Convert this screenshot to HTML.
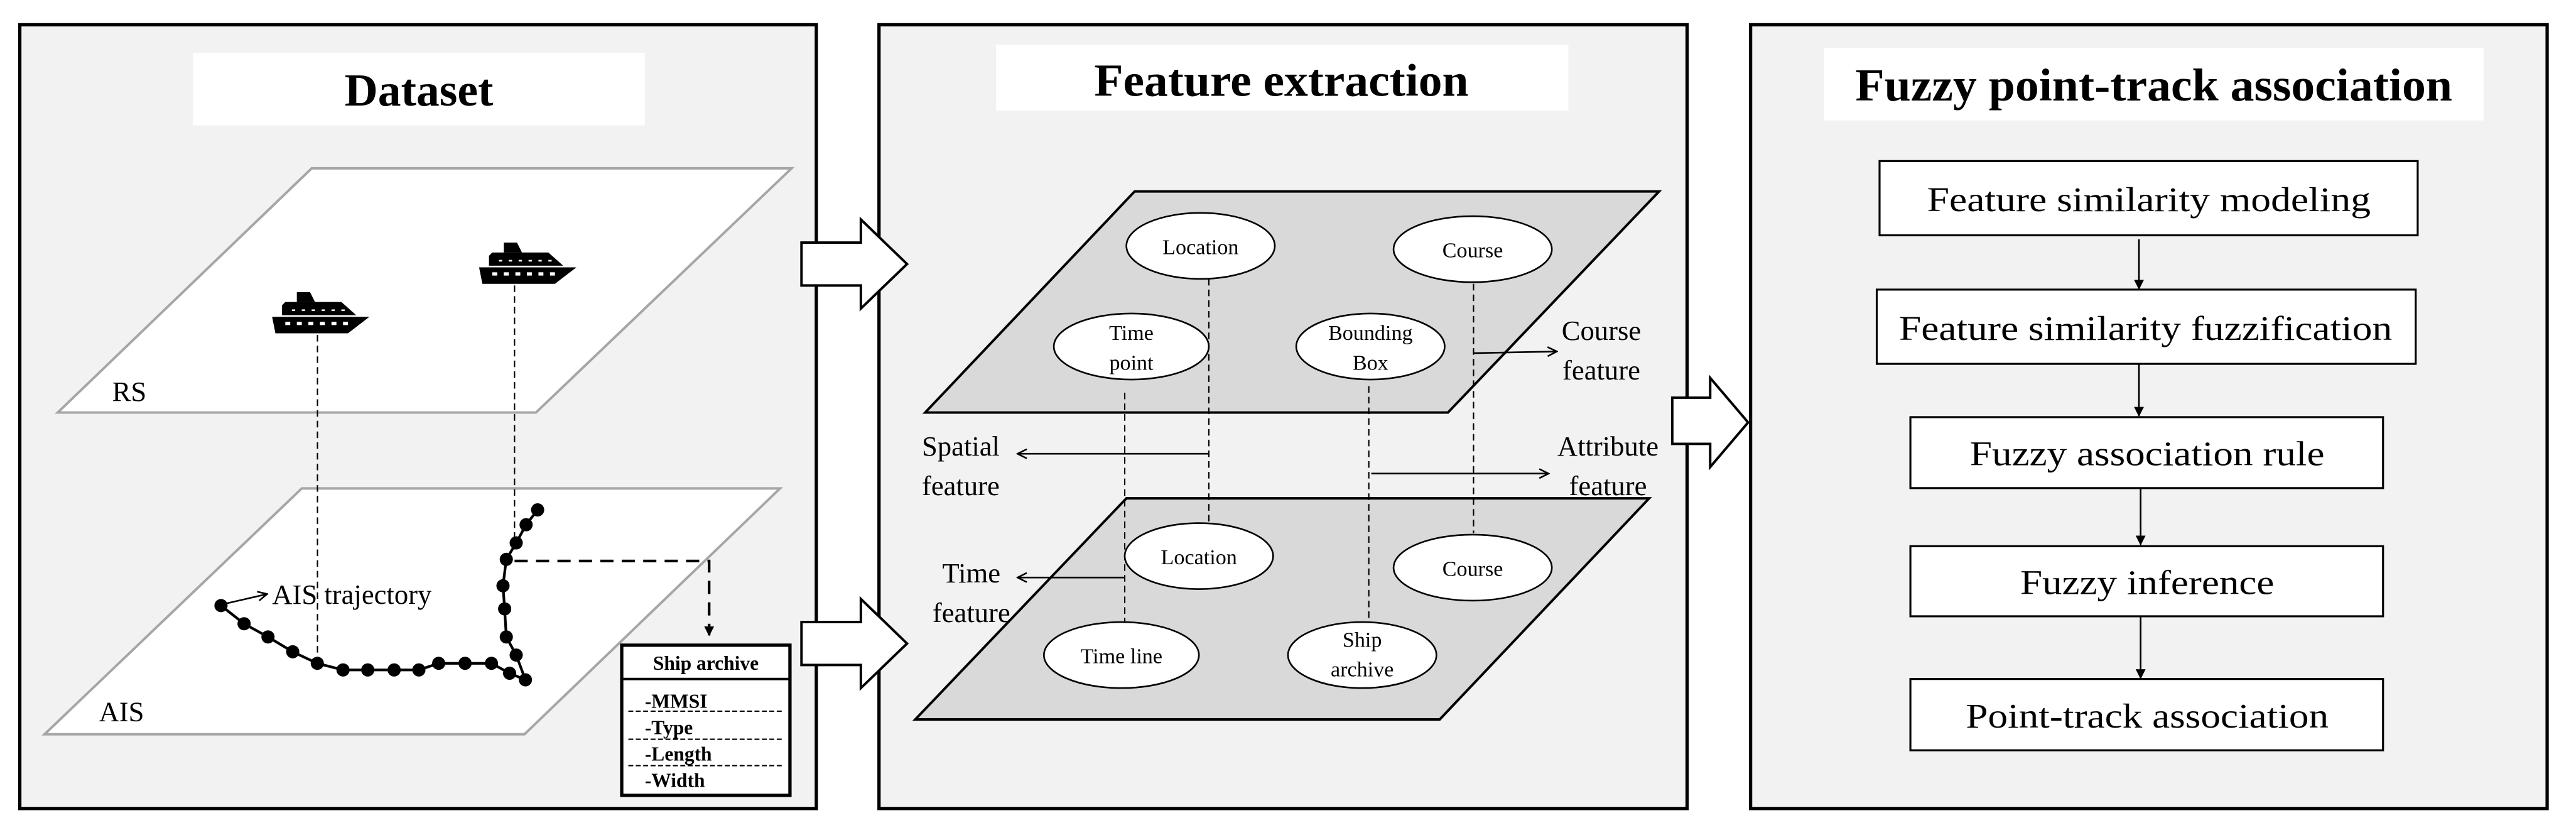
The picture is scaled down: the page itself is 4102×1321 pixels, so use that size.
<!DOCTYPE html>
<html><head><meta charset="utf-8"><style>html,body{margin:0;padding:0;background:#fff}svg{display:block}</style></head><body>
<svg width="4102" height="1321" viewBox="0 0 1562 503" xmlns="http://www.w3.org/2000/svg" font-family="'Liberation Serif', serif">
<defs>
<marker id="ah" viewBox="0 0 10 10" refX="9" refY="5" markerWidth="7" markerHeight="7" orient="auto" markerUnits="userSpaceOnUse"><path d="M1,1 L9,5 L1,9" fill="none" stroke="#000" stroke-width="1.4"/></marker>
<marker id="af" viewBox="0 0 10 10" refX="9" refY="5" markerWidth="6" markerHeight="6" orient="auto" markerUnits="userSpaceOnUse"><path d="M0,0 L10,5 L0,10 Z" fill="#000"/></marker>
<g id="ship">
<path d="M0,0 L59,0 L46,10 L2,10 Z" fill="#000"/>
<path d="M6,-1 L6,-7 L8,-9 L42,-9 L51,-1 Z" fill="#000"/>
<path d="M15,-9 L15,-15 L23,-15 L26,-9 Z" fill="#000"/>
<g fill="#fff"><rect x="8" y="3" width="3" height="2"/><rect x="15" y="3" width="3" height="2"/><rect x="22" y="3" width="3" height="2"/><rect x="29" y="3" width="3" height="2"/><rect x="36" y="3" width="3" height="2"/><rect x="43" y="3" width="3" height="2"/>
<rect x="12" y="-4.5" width="2" height="1"/><rect x="18" y="-4.5" width="2" height="1"/><rect x="24" y="-4.5" width="2" height="1"/><rect x="30" y="-4.5" width="2" height="1"/><rect x="36" y="-4.5" width="2" height="1"/><rect x="42" y="-4.5" width="2" height="1"/></g>
</g>
</defs>

<!-- Panels -->
<rect x="12" y="15" width="483" height="475" fill="#f2f2f2" stroke="#000" stroke-width="2"/>
<rect x="533" y="15" width="490" height="475" fill="#f2f2f2" stroke="#000" stroke-width="2"/>
<rect x="1061.5" y="15" width="483" height="475" fill="#f2f2f2" stroke="#000" stroke-width="2"/>

<!-- Panel 1 -->
<rect x="117" y="32" width="274" height="44" fill="#fff"/>
<text x="254" y="64" font-size="28" font-weight="bold" text-anchor="middle">Dataset</text>
<polygon points="189,102 480,102 325,250 35,250" fill="#fff" stroke="#a6a6a6" stroke-width="1.5"/>
<polygon points="183,296 473,296 318,445 27,445" fill="#fff" stroke="#a6a6a6" stroke-width="1.5"/>
<text x="68" y="243" font-size="17">RS</text>
<text x="60" y="437" font-size="17">AIS</text>
<use href="#ship" x="165" y="192"/>
<use href="#ship" x="290.5" y="162"/>
<line x1="192.5" y1="203" x2="192.5" y2="402" stroke="#000" stroke-width="0.8" stroke-dasharray="4,2.5"/>
<line x1="312" y1="173" x2="312" y2="335" stroke="#000" stroke-width="0.8" stroke-dasharray="4,2.5"/>
<polyline points="134,367 148,378 162.5,386 177.5,395 192.4,402 208,406 223,406 239,406 254,406 266,402 282,402 298,402 309,408 318.6,412 313,397 307,386 306,369 305,355 307,339 313,329 319,318 326,309" fill="none" stroke="#000" stroke-width="1.6"/>
<g fill="#000">
<circle cx="134" cy="367" r="4"/><circle cx="148" cy="378" r="4"/><circle cx="162.5" cy="386" r="4"/><circle cx="177.5" cy="395" r="4"/><circle cx="192.4" cy="402" r="4"/><circle cx="208" cy="406" r="4"/><circle cx="223" cy="406" r="4"/><circle cx="239" cy="406" r="4"/><circle cx="254" cy="406" r="4"/><circle cx="266" cy="402" r="4"/><circle cx="282" cy="402" r="4"/><circle cx="298" cy="402" r="4"/><circle cx="309" cy="408" r="4"/><circle cx="318.6" cy="412" r="4"/><circle cx="313" cy="397" r="4"/><circle cx="307" cy="386" r="4"/><circle cx="306" cy="369" r="4"/><circle cx="305" cy="355" r="4"/><circle cx="307" cy="339" r="4"/><circle cx="313" cy="329" r="4"/><circle cx="319" cy="318" r="4"/><circle cx="326" cy="309" r="4"/>
</g>
<line x1="136" y1="366" x2="162" y2="360" stroke="#000" stroke-width="1" marker-end="url(#ah)"/>
<text x="165" y="366" font-size="17">AIS trajectory</text>
<polyline points="312,340 430,340 430,385" fill="none" stroke="#000" stroke-width="1.6" stroke-dasharray="8,5" marker-end="url(#af)"/>
<rect x="377" y="391" width="102" height="91" fill="#fff" stroke="#000" stroke-width="2"/>
<line x1="377" y1="411.5" x2="479" y2="411.5" stroke="#000" stroke-width="1.5"/>
<text x="428" y="406" font-size="12" font-weight="bold" text-anchor="middle">Ship archive</text>
<g font-size="12" font-weight="bold">
<text x="391" y="429">-MMSI</text><text x="391" y="445">-Type</text><text x="391" y="461">-Length</text><text x="391" y="477">-Width</text></g>
<g stroke="#000" stroke-width="0.8" stroke-dasharray="3,1.5">
<line x1="381" y1="431" x2="475" y2="431"/><line x1="381" y1="448" x2="475" y2="448"/><line x1="381" y1="464" x2="475" y2="464"/></g>

<!-- block arrows -->
<polygon points="486,147 522,147 522,133 550,160 522,187 522,173 486,173" fill="#fff" stroke="#000" stroke-width="1.5"/>
<polygon points="486,377 522,377 522,363 550,390 522,417 522,403 486,403" fill="#fff" stroke="#000" stroke-width="1.5"/>
<polygon points="1014,241 1037,241 1037,229 1060,256 1037,283 1037,269 1014,269" fill="#fff" stroke="#000" stroke-width="1.5"/>

<!-- Panel 2 -->
<rect x="604" y="27" width="347" height="40" fill="#fff"/>
<text x="777" y="58" font-size="28" font-weight="bold" text-anchor="middle" textLength="227" lengthAdjust="spacingAndGlyphs">Feature extraction</text>
<polygon points="688,116 1006,116 878,250 561,250" fill="#d9d9d9" stroke="#000" stroke-width="1.5"/>
<polygon points="683,302 1000,302 873,436 555,436" fill="#d9d9d9" stroke="#000" stroke-width="1.5"/>
<g stroke="#000" stroke-width="0.8" stroke-dasharray="4,2.5">
<line x1="733" y1="169" x2="733" y2="316"/>
<line x1="682" y1="238" x2="682" y2="377"/>
<line x1="830" y1="234" x2="830" y2="377"/>
<line x1="893.5" y1="172" x2="893.5" y2="323"/>
</g>
<g fill="#fff" stroke="#000" stroke-width="1">
<ellipse cx="728" cy="149" rx="45" ry="20"/>
<ellipse cx="893" cy="151" rx="48" ry="20"/>
<ellipse cx="686" cy="210" rx="47" ry="20"/>
<ellipse cx="831" cy="210" rx="45" ry="20"/>
<ellipse cx="727" cy="337" rx="45" ry="20"/>
<ellipse cx="893" cy="344" rx="48" ry="20"/>
<ellipse cx="680" cy="397" rx="47" ry="20"/>
<ellipse cx="826" cy="397" rx="45" ry="20"/>
</g>
<g font-size="13" text-anchor="middle">
<text x="728" y="154">Location</text>
<text x="893" y="156">Course</text>
<text x="686" y="206">Time</text><text x="686" y="224">point</text>
<text x="831" y="206">Bounding</text><text x="831" y="224">Box</text>
<text x="727" y="342">Location</text>
<text x="893" y="349">Course</text>
<text x="680" y="402">Time line</text>
<text x="826" y="392">Ship</text><text x="826" y="410">archive</text>
</g>
<g stroke="#000" stroke-width="1" fill="none">
<line x1="733" y1="275" x2="617" y2="275" marker-end="url(#ah)"/>
<line x1="682" y1="350" x2="617" y2="350" marker-end="url(#ah)"/>
<line x1="893.5" y1="214" x2="944" y2="213" marker-end="url(#ah)"/>
<line x1="831.5" y1="287" x2="939" y2="287" marker-end="url(#ah)"/>
</g>
<g font-size="17">
<text x="559" y="276">Spatial</text><text x="559" y="300">feature</text>
<text x="589" y="353" text-anchor="middle">Time</text><text x="589" y="377" text-anchor="middle">feature</text>
<text x="971" y="206" text-anchor="middle">Course</text><text x="971" y="230" text-anchor="middle">feature</text>
<text x="975" y="276" text-anchor="middle">Attribute</text><text x="975" y="300" text-anchor="middle">feature</text>
</g>

<!-- Panel 3 -->
<rect x="1106" y="29" width="400" height="44" fill="#fff"/>
<text x="1306" y="61" font-size="28" font-weight="bold" text-anchor="middle" textLength="362" lengthAdjust="spacingAndGlyphs">Fuzzy point-track association</text>
<g fill="#fff" stroke="#000" stroke-width="1.2">
<rect x="1139.7" y="97.6" width="326.3" height="45"/>
<rect x="1138" y="175.5" width="326.8" height="45"/>
<rect x="1158.4" y="252.8" width="286.6" height="43"/>
<rect x="1158.4" y="331" width="286.6" height="42.5"/>
<rect x="1158.4" y="411.5" width="286.6" height="43.2"/>
</g>
<g font-size="21" text-anchor="middle">
<text x="1303" y="128" textLength="269" lengthAdjust="spacingAndGlyphs">Feature similarity modeling</text>
<text x="1301" y="206" textLength="299" lengthAdjust="spacingAndGlyphs">Feature similarity fuzzification</text>
<text x="1302" y="282" textLength="215" lengthAdjust="spacingAndGlyphs">Fuzzy association rule</text>
<text x="1302" y="360" textLength="154" lengthAdjust="spacingAndGlyphs">Fuzzy inference</text>
<text x="1302" y="441" textLength="220" lengthAdjust="spacingAndGlyphs">Point-track association</text>
</g>
<g stroke="#000" stroke-width="1" marker-end="url(#af)">
<line x1="1297" y1="145" x2="1297" y2="175"/>
<line x1="1297" y1="221" x2="1297" y2="252"/>
<line x1="1298" y1="296" x2="1298" y2="330"/>
<line x1="1298" y1="374" x2="1298" y2="411"/>
</g>
</svg>
</body></html>
